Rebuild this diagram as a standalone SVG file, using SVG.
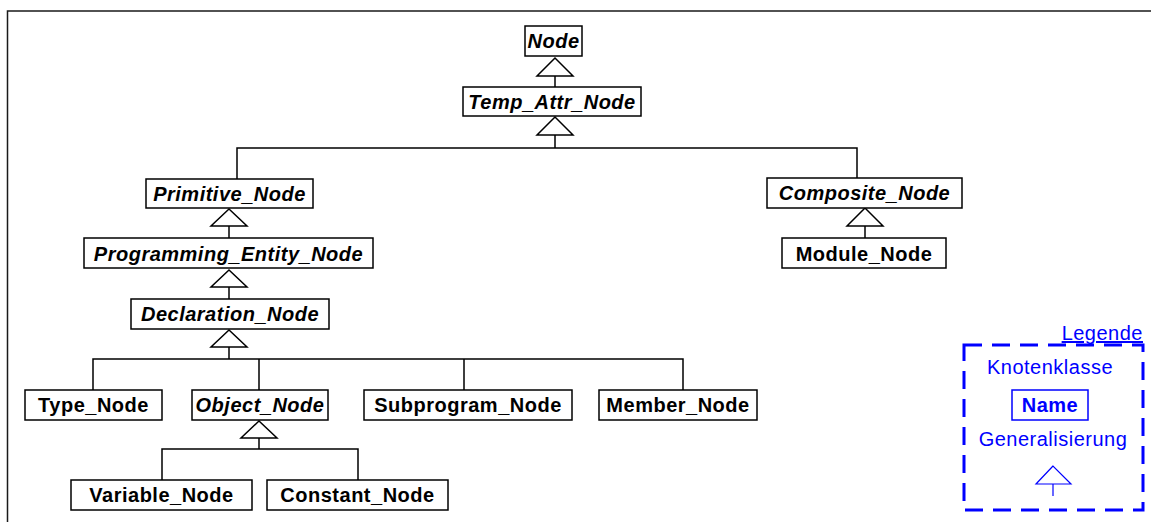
<svg xmlns="http://www.w3.org/2000/svg" width="1151" height="522" viewBox="0 0 1151 522">
  <style>
    .box { fill: #ffffff; stroke: #000000; stroke-width: 1.5; }
    .lbl { font-family: "Liberation Sans", Arial, sans-serif; font-size: 20px; font-weight: bold; letter-spacing: 0.5px; text-anchor: middle; fill: #000000; }
    .abs { font-style: italic; }
    .edge { fill: none; stroke: #000000; stroke-width: 1.5; }
    .tri { fill: #ffffff; stroke: #000000; stroke-width: 1.5; }
    .leg { font-family: "Liberation Sans", Arial, sans-serif; font-size: 20px; letter-spacing: 0.5px; fill: #0000ff; }
  </style>
  <rect width="1151" height="522" fill="#ffffff"/>
  <!-- frame -->
  <path d="M7.5 522 V11 H1151" fill="none" stroke="#1a1a1a" stroke-width="1.5"/>

  <!-- generalisation connectors -->
  <g id="connectors">
    <path class="edge" d="M555 76 V87"/>
    <polygon class="tri" points="555,58 537,76 573,76"/>
    <path class="edge" d="M555 135 V148 M237 179 V148 H857 V178"/>
    <polygon class="tri" points="555,117 537,135 573,135"/>
    <path class="edge" d="M229 226 V238"/>
    <polygon class="tri" points="229,209 211,226 247,226"/>
    <path class="edge" d="M229 287 V299"/>
    <polygon class="tri" points="229,270 211,287 247,287"/>
    <path class="edge" d="M229 347 V359 M93 390 V359 H683 V390 M259 359 V390 M464 359 V390"/>
    <polygon class="tri" points="229,330 211,347 247,347"/>
    <path class="edge" d="M259 438 V449 M162 480 V449 H358 V480"/>
    <polygon class="tri" points="259,421 241,438 277,438"/>
    <path class="edge" d="M865 226 V238"/>
    <polygon class="tri" points="865,208 847,226 883,226"/>
  </g>

  <g id="node">
    <rect class="box" x="525" y="26" width="57" height="30"/>
    <text class="lbl abs" x="553.5" y="48">Node</text>
  </g>
  <g id="temp-attr-node">
    <rect class="box" x="463" y="87" width="178" height="29"/>
    <text class="lbl abs" x="552" y="109">Temp_Attr_Node</text>
  </g>
  <g id="primitive-node">
    <rect class="box" x="146" y="179" width="167" height="29"/>
    <text class="lbl abs" x="229.5" y="201">Primitive_Node</text>
  </g>
  <g id="programming-entity-node">
    <rect class="box" x="84" y="238" width="289" height="30"/>
    <text class="lbl abs" x="228.5" y="261">Programming_Entity_Node</text>
  </g>
  <g id="declaration-node">
    <rect class="box" x="131" y="299" width="198" height="30"/>
    <text class="lbl abs" x="230" y="321">Declaration_Node</text>
  </g>
  <g id="type-node">
    <rect class="box" x="25" y="390" width="137" height="30"/>
    <text class="lbl" x="93.5" y="412">Type_Node</text>
  </g>
  <g id="object-node">
    <rect class="box" x="192" y="390" width="136" height="30"/>
    <text class="lbl abs" x="260" y="412">Object_Node</text>
  </g>
  <g id="subprogram-node">
    <rect class="box" x="364" y="390" width="208" height="30"/>
    <text class="lbl" x="468" y="412">Subprogram_Node</text>
  </g>
  <g id="member-node">
    <rect class="box" x="599" y="390" width="158" height="30"/>
    <text class="lbl" x="678" y="412">Member_Node</text>
  </g>
  <g id="variable-node">
    <rect class="box" x="71" y="480" width="181" height="30"/>
    <text class="lbl" x="161.5" y="502">Variable_Node</text>
  </g>
  <g id="constant-node">
    <rect class="box" x="267" y="480" width="181" height="30"/>
    <text class="lbl" x="357.5" y="502">Constant_Node</text>
  </g>
  <g id="composite-node">
    <rect class="box" x="767" y="178" width="195" height="30"/>
    <text class="lbl abs" x="864.5" y="200">Composite_Node</text>
  </g>
  <g id="module-node">
    <rect class="box" x="782" y="238" width="164" height="30"/>
    <text class="lbl" x="864" y="261">Module_Node</text>
  </g>

  <!-- legend -->
  <g id="legend">
    <text class="leg" x="1143" y="340" text-anchor="end" text-decoration="underline">Legende</text>
    <rect x="964" y="345" width="179" height="165" fill="none" stroke="#0000ff" stroke-width="3" stroke-dasharray="18 10"/>
    <text class="leg" x="1050" y="374" text-anchor="middle">Knotenklasse</text>
    <rect x="1012" y="390" width="76" height="30" fill="#ffffff" stroke="#0000ff" stroke-width="1.5"/>
    <text class="leg" x="1050" y="412" text-anchor="middle" font-weight="bold">Name</text>
    <text class="leg" x="1053" y="446" text-anchor="middle">Generalisierung</text>
    <path d="M1053 484 V496" fill="none" stroke="#0000ff" stroke-width="1.2"/>
    <polygon points="1053,466 1036,484 1071,484" fill="#ffffff" stroke="#0000ff" stroke-width="1.2"/>
  </g>
</svg>
